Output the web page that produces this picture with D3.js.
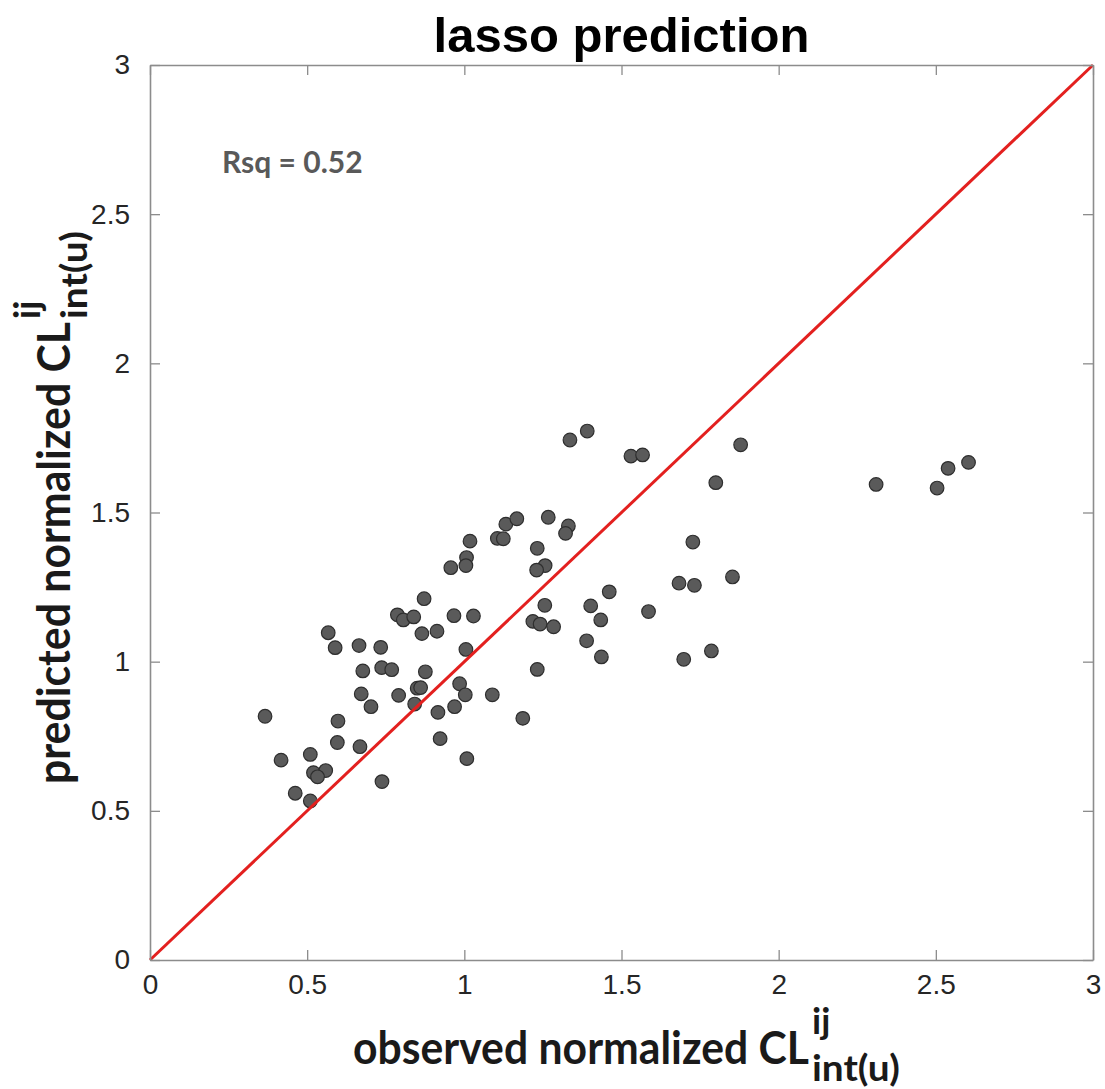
<!DOCTYPE html>
<html>
<head>
<meta charset="utf-8">
<script src="https://cdn.jsdelivr.net/npm/d3@7"></script>
<style>
  body { margin: 0; background: #fff; }
  svg { display: block; }
</style>
</head>
<body>
<svg id="chart" width="1105" height="1089"></svg>
<script>
// observed vs predicted (lasso)
const observed = [
  1.336, 1.391, 1.530, 1.567, 1.879, 1.800, 1.018, 1.105, 1.124, 1.132,
  1.167, 1.267, 1.331, 1.322, 1.232, 1.007, 1.005, 0.957, 1.257, 1.230,
  1.727, 1.683, 1.732, 1.853, 1.461, 1.402, 1.434, 1.586, 1.389, 1.436,
  1.698, 1.786, 1.256, 1.218, 1.241, 1.284, 1.232, 0.872, 0.787, 0.806,
  0.839, 0.967, 1.029, 0.865, 0.913, 1.005, 0.665, 0.734, 0.677, 0.737,
  0.769, 0.876, 0.672, 0.791, 0.850, 0.861, 0.985, 1.003, 1.089, 0.703,
  0.842, 0.969, 0.916, 1.186, 0.668, 0.923, 1.008, 0.738, 0.567, 0.589,
  0.366, 0.598, 0.596, 0.417, 0.510, 0.520, 0.559, 0.533, 0.462, 0.510,
  2.310, 2.504, 2.539, 2.604
];
const predicted = [
  1.743, 1.773, 1.689, 1.693, 1.727, 1.600, 1.404, 1.413, 1.412, 1.461,
  1.479, 1.484, 1.455, 1.430, 1.380, 1.349, 1.322, 1.315, 1.322, 1.307,
  1.401, 1.263, 1.256, 1.284, 1.234, 1.187, 1.140, 1.168, 1.070, 1.016,
  1.008, 1.036, 1.189, 1.135, 1.126, 1.117, 0.974, 1.211, 1.157, 1.140,
  1.150, 1.154, 1.153, 1.094, 1.102, 1.041, 1.054, 1.048, 0.969, 0.980,
  0.973, 0.966, 0.892, 0.887, 0.911, 0.913, 0.926, 0.889, 0.889, 0.849,
  0.858, 0.849, 0.830, 0.810, 0.715, 0.742, 0.675, 0.598, 1.097, 1.047,
  0.817, 0.801, 0.729, 0.670, 0.689, 0.628, 0.635, 0.614, 0.559, 0.533,
  1.594, 1.582, 1.648, 1.668
];
const tickValues = [0, 0.5, 1, 1.5, 2, 2.5, 3];
const diagonal = [0, 3];
const rsqLabel = "Rsq = 0.52";

const svg = d3.select("#chart");
const box = { left: 150, right: 1093, top: 65, bottom: 960 };

const x = d3.scaleLinear().domain([0, 3]).range([box.left, box.right]);
const y = d3.scaleLinear().domain([0, 3]).range([box.bottom, box.top]);
const tickFmt = d => d === 0 ? "0" : String(d);

const data = observed.map((o, i) => ({ o, p: predicted[i] }));

// points
svg.append("g")
  .selectAll("circle")
  .data(data)
  .join("circle")
  .attr("cx", d => x(d.o))
  .attr("cy", d => y(d.p))
  .attr("r", 6.8)
  .attr("fill", "#5a5a5a")
  .attr("stroke", "#2e2e2e")
  .attr("stroke-width", 1.2);

// identity line
svg.append("line")
  .attr("x1", x(diagonal[0])).attr("y1", y(diagonal[0]))
  .attr("x2", x(diagonal[1])).attr("y2", y(diagonal[1]))
  .attr("stroke", "#e3201f")
  .attr("stroke-width", 3);

// axes, MATLAB style box with inward ticks on all sides
const axisStyle = g => {
  g.select(".domain").attr("stroke", "#8c8c8c").attr("stroke-width", 1.6);
  g.selectAll(".tick line").attr("stroke", "#8c8c8c").attr("stroke-width", 1.3);
  g.selectAll(".tick text")
    .attr("fill", "#262626")
    .attr("font-family", "'Liberation Sans', Arial, sans-serif")
    .attr("font-size", 28);
};

svg.append("g")
  .attr("transform", `translate(0,${box.bottom})`)
  .call(d3.axisBottom(x).tickValues(tickValues).tickFormat(tickFmt).tickSizeInner(-10).tickSizeOuter(0).tickPadding(14))
  .call(axisStyle);

svg.append("g")
  .attr("transform", `translate(0,${box.top})`)
  .call(d3.axisTop(x).tickValues(tickValues).tickSizeInner(-10).tickSizeOuter(0).tickFormat(""))
  .call(axisStyle);

svg.append("g")
  .attr("transform", `translate(${box.left},0)`)
  .call(d3.axisLeft(y).tickValues(tickValues).tickFormat(tickFmt).tickSizeInner(-10).tickSizeOuter(0).tickPadding(20))
  .call(axisStyle);

svg.append("g")
  .attr("transform", `translate(${box.right},0)`)
  .call(d3.axisRight(y).tickValues(tickValues).tickSizeInner(-10).tickSizeOuter(0).tickFormat(""))
  .call(axisStyle);

// title
svg.append("text")
  .attr("x", (box.left + box.right) / 2)
  .attr("y", 52)
  .attr("text-anchor", "middle")
  .attr("font-family", "'Liberation Sans', Arial, sans-serif")
  .attr("font-weight", "bold")
  .attr("font-size", 49)
  .attr("fill", "#000")
  .text("lasso prediction");

// Rsq note
svg.append("text")
  .attr("x", 222)
  .attr("y", 173)
  .attr("font-family", "Lato, sans-serif")
  .attr("font-weight", "bold")
  .attr("font-size", 30)
  .attr("fill", "#595959")
  .text(rsqLabel);

// axis titles with CL^ij_int(u)
function axisTitle(g, mainText, mainWidth) {
  const font = "Lato, sans-serif";
  g.append("text")
    .attr("x", 0).attr("y", 0)
    .attr("font-family", font).attr("font-weight", "bold")
    .attr("font-size", 46).attr("fill", "#1a1a1a")
    .attr("textLength", mainWidth).attr("lengthAdjust", "spacingAndGlyphs")
    .text(mainText);
  g.append("text")
    .attr("x", mainWidth + 3).attr("y", -30)
    .attr("font-family", font).attr("font-weight", "bold")
    .attr("font-size", 36).attr("fill", "#1a1a1a")
    .text("ij");
  g.append("text")
    .attr("x", mainWidth + 3).attr("y", 17)
    .attr("font-family", font).attr("font-weight", "bold")
    .attr("font-size", 37).attr("fill", "#1a1a1a")
    .attr("textLength", 88).attr("lengthAdjust", "spacingAndGlyphs")
    .text("int(u)");
  return mainWidth + 3 + 88;
}

const xt = svg.append("g");
const xw = axisTitle(xt, "observed normalized CL", 456);
xt.attr("transform", `translate(${(box.left + box.right) / 2 + 5 - xw / 2},1064)`);

const yt = svg.append("g");
const yw = axisTitle(yt, "predicted normalized CL", 462);
yt.attr("transform", `translate(70,${(box.top + box.bottom) / 2 + yw / 2 - 5}) rotate(-90)`);
</script>
</body>
</html>
